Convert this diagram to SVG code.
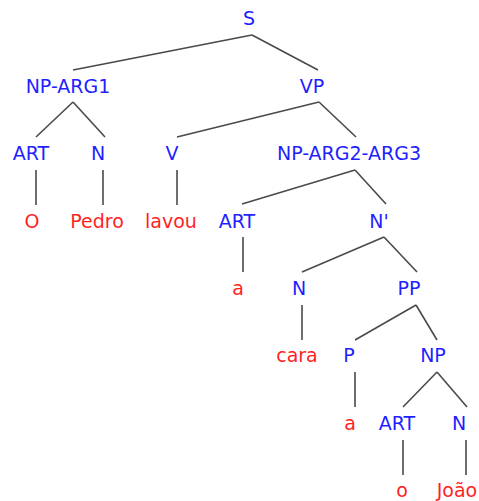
<svg xmlns="http://www.w3.org/2000/svg" width="479" height="501" viewBox="0 0 479 501">
<style>
text{font-family:"DejaVu Sans",sans-serif;font-size:19px;text-anchor:middle}
.c{fill:#1f1fff}
.w{fill:#ff1f1f}
#edges line{stroke:#4a4a4a;stroke-width:1.6}
</style>
<rect width="479" height="501" fill="#fff"/>
<g id="edges">
<line x1="252" y1="35" x2="73" y2="70"/>
<line x1="252" y1="35" x2="318" y2="70"/>
<line x1="73" y1="102" x2="36" y2="137"/>
<line x1="73" y1="102" x2="105" y2="137"/>
<line x1="319" y1="102" x2="177" y2="137"/>
<line x1="319" y1="102" x2="356" y2="137"/>
<line x1="36" y1="170" x2="36" y2="205"/>
<line x1="103" y1="170" x2="103" y2="205"/>
<line x1="177" y1="170" x2="177" y2="205"/>
<line x1="355" y1="170" x2="242" y2="204"/>
<line x1="355" y1="170" x2="386" y2="204"/>
<line x1="243" y1="237" x2="243" y2="272"/>
<line x1="384" y1="237" x2="302" y2="272"/>
<line x1="384" y1="237" x2="417" y2="272"/>
<line x1="302" y1="305" x2="302" y2="340"/>
<line x1="416" y1="305" x2="355" y2="340"/>
<line x1="416" y1="305" x2="437" y2="340"/>
<line x1="355" y1="372" x2="355" y2="407"/>
<line x1="437" y1="372" x2="403" y2="407"/>
<line x1="437" y1="372" x2="467" y2="407"/>
<line x1="403" y1="440" x2="403" y2="475"/>
<line x1="466" y1="440" x2="466" y2="475"/>
</g>
<g id="n_S"><text class="c" x="249" y="25">S</text></g>
<g id="n_NPARG1"><text class="c" x="68" y="93">NP-ARG1</text></g>
<g id="n_VP"><text class="c" x="312" y="93">VP</text></g>
<g id="n_ART1"><text class="c" x="31" y="160">ART</text></g>
<g id="n_N1"><text class="c" x="98" y="160">N</text></g>
<g id="n_V"><text class="c" x="172" y="160">V</text></g>
<g id="n_NPARG23"><text class="c" x="349" y="160">NP-ARG2-ARG3</text></g>
<g id="w_O"><text class="w" x="32" y="228">O</text></g>
<g id="w_Pedro"><text class="w" x="97" y="228">Pedro</text></g>
<g id="w_lavou"><text class="w" x="171" y="228">lavou</text></g>
<g id="n_ART2"><text class="c" x="237" y="228">ART</text></g>
<g id="n_Nbar"><text class="c" x="379" y="228">N'</text></g>
<g id="w_a1"><text class="w" x="238" y="295">a</text></g>
<g id="n_N2"><text class="c" x="299" y="295">N</text></g>
<g id="n_PP"><text class="c" x="409" y="295">PP</text></g>
<g id="w_cara"><text class="w" x="297" y="362">cara</text></g>
<g id="n_P"><text class="c" x="349" y="362">P</text></g>
<g id="n_NP"><text class="c" x="433" y="362">NP</text></g>
<g id="w_a2"><text class="w" x="350" y="430">a</text></g>
<g id="n_ART3"><text class="c" x="397" y="430">ART</text></g>
<g id="n_N3"><text class="c" x="459" y="430">N</text></g>
<g id="w_o"><text class="w" x="402" y="497">o</text></g>
<g id="w_Joao"><text class="w" x="457" y="497">João</text></g>
</svg>
